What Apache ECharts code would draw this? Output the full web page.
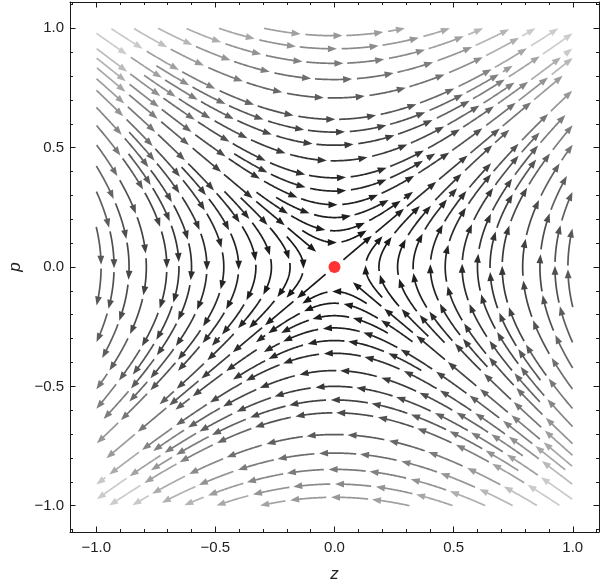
<!DOCTYPE html>
<html><head><meta charset="utf-8">
<script src="https://cdn.jsdelivr.net/npm/echarts@6/dist/echarts.min.js"></script>
<style>html,body{margin:0;padding:0;background:#fff}#c{width:600px;height:583px}</style>
</head><body><div id="c"></div>
<script>
// ---- data ----
// vector field: dz/dt = fieldZ[0]*z + fieldZ[1]*p ; dp/dt = fieldP[0]*z + fieldP[1]*p
const fieldZ = [0, 1];
const fieldP = [0.7, 0];
const streamRegionZ = [-1, 1];
const streamRegionP = [-1, 1];
const plotRangeZ = [-1.11, 1.11];
const plotRangeP = [-1.11, 1.11];
const majorTicks = [-1, -0.5, 0, 0.5, 1];
const minorTicks = [-1.1,-0.9,-0.8,-0.7,-0.6,-0.4,-0.3,-0.2,-0.1,0.1,0.2,0.3,0.4,0.6,0.7,0.8,0.9,1.1];
const fixedPoints = [[0, 0]];
const seedPoints = [[0.3, 0.45], [-0.6, 0.0], [0.6, 0.0], [0.0, -0.5], [0.12, 0.1], [-0.12, -0.1], [-0.12, 0.1], [0.12, -0.1]];
const xName = 'z';
const yName = 'p';

// ---- streamline computation (evenly spaced streamlines) ----
const DSEP = 0.052, DTEST = 0.03, H = 0.004, MIN_SPEED = 0.04, SEED_SPEED = 0.11, MIN_LEN = 0.05;
function vel(z, p) { return [fieldZ[0]*z + fieldZ[1]*p, fieldP[0]*z + fieldP[1]*p]; }
function step(z, p, dir) {
  let v = vel(z, p), n = Math.hypot(v[0], v[1]);
  if (n < 1e-9) return null;
  const zm = z + v[0]/n*dir*H/2, pm = p + v[1]/n*dir*H/2;
  v = vel(zm, pm); n = Math.hypot(v[0], v[1]);
  if (n < 1e-9) return null;
  return [z + v[0]/n*dir*H, p + v[1]/n*dir*H];
}
const cell = DSEP;
const gridMap = new Map();
function key(i, j) { return i*10007 + j; }
function addPoints(pts) {
  for (const q of pts) {
    const k = key(Math.floor((q[0]+3)/cell), Math.floor((q[1]+3)/cell));
    if (!gridMap.has(k)) gridMap.set(k, []);
    gridMap.get(k).push(q);
  }
}
function near(z, p, r) {
  const i0 = Math.floor((z+3)/cell), j0 = Math.floor((p+3)/cell), n = Math.ceil(r/cell);
  for (let i = i0-n; i <= i0+n; i++) for (let j = j0-n; j <= j0+n; j++) {
    const arr = gridMap.get(key(i, j)); if (!arr) continue;
    for (const q of arr) if ((q[0]-z)*(q[0]-z) + (q[1]-p)*(q[1]-p) < r*r) return true;
  }
  return false;
}
function inRegion(z, p) {
  return z >= streamRegionZ[0] && z <= streamRegionZ[1] && p >= streamRegionP[0] && p <= streamRegionP[1];
}
function speed(z, p) { const v = vel(z, p); return Math.hypot(v[0], v[1]); }
function trace(z0, p0, dir) {
  const pts = []; let z = z0, p = p0;
  for (let k = 0; k < 3000; k++) {
    const nx = step(z, p, dir); if (!nx) break;
    if (!inRegion(nx[0], nx[1])) break;
    if (speed(nx[0], nx[1]) < MIN_SPEED) break;
    if (near(nx[0], nx[1], DTEST)) break;
    pts.push(nx); z = nx[0]; p = nx[1];
  }
  return pts;
}
function makeLine(z, p) {
  if (!inRegion(z, p)) return null;
  if (speed(z, p) < SEED_SPEED) return null;
  if (near(z, p, DSEP*0.97)) return null;
  const back = trace(z, p, -1).reverse();
  const fwd = trace(z, p, 1);
  const pts = back.concat([[z, p]], fwd);
  if ((pts.length-1)*H < MIN_LEN) return null;
  addPoints(pts);
  return pts;
}
const lines = [];
let qi = 0;
function bfs() {
  while (qi < lines.length) {
    const L = lines[qi++];
    for (let k = 0; k < L.length; k += 4) {
      const a = L[Math.max(0, k-1)], b = L[Math.min(L.length-1, k+1)];
      let tz = b[0]-a[0], tp = b[1]-a[1]; const n = Math.hypot(tz, tp); if (n === 0) continue;
      tz /= n; tp /= n;
      for (const s of [1, -1]) {
        const N = makeLine(L[k][0] - s*DSEP*tp, L[k][1] + s*DSEP*tz);
        if (N) lines.push(N);
      }
    }
  }
}
for (const s of seedPoints) { const L = makeLine(s[0], s[1]); if (L) lines.push(L); }
bfs();
for (let z = streamRegionZ[0]+0.01; z < streamRegionZ[1]; z += DSEP/2)
  for (let p = streamRegionP[0]+0.01; p < streamRegionP[1]; p += DSEP/2) {
    const L = makeLine(z, p); if (L) { lines.push(L); bfs(); }
  }

// ---- split streamlines into arrowed pieces ----
const SEG = 0.16, GAP = 0.014, MIN_PIECE = 0.04;
const corners = [[1,1],[1,-1],[-1,1],[-1,-1]];
const SMAX = Math.max(...corners.map(c => speed(c[0], c[1])));
function grayFor(s) {
  const t = Math.min(1, s / SMAX);
  const g = Math.round(24 + 208 * Math.pow(t, 2.1));
  return 'rgb(' + g + ',' + g + ',' + g + ')';
}
const pieces = [];
for (const L of lines) {
  const cum = [0];
  for (let i = 1; i < L.length; i++) cum.push(cum[i-1] + Math.hypot(L[i][0]-L[i-1][0], L[i][1]-L[i-1][1]));
  const total = cum[cum.length-1];
  let s = 0;
  while (s < total) {
    const e = Math.min(s + SEG, total);
    if (e - s >= MIN_PIECE) {
      const pts = [];
      for (let i = 0; i < L.length; i++) if (cum[i] >= s && cum[i] <= e) pts.push(L[i]);
      if (pts.length >= 3) {
        const m = pts[Math.floor(pts.length/2)];
        pieces.push({ pts: pts, color: grayFor(speed(m[0], m[1])), mid: m });
      }
    }
    s = e + GAP;
  }
}

// ---- chart ----
const chart = echarts.init(document.getElementById('c'), null, { renderer: 'canvas' });
const FONT = '"Liberation Sans", Arial, sans-serif';
const lineCol = '#1a1a1a';
function fmt(v) { return (v < 0 ? '\u2212' : '') + Math.abs(v).toFixed(1); }
function axisSet(pos, ticks, len, isMain, range) {
  return {
    type: 'value', position: pos, min: range[0], max: range[1],
    axisLine: { show: isMain, onZero: false, lineStyle: { color: lineCol, width: 1 } },
    axisTick: { show: true, inside: true, length: len, customValues: ticks, lineStyle: { color: lineCol, width: 1 } },
    axisLabel: { show: false },
    splitLine: { show: false }, minorTick: { show: false }, minorSplitLine: { show: false }
  };
}
const xAxes = [
  axisSet('bottom', majorTicks, 5.5, true, plotRangeZ),
  axisSet('bottom', minorTicks, 3, false, plotRangeZ),
  axisSet('top', majorTicks, 5.5, true, plotRangeZ),
  axisSet('top', minorTicks, 3, false, plotRangeZ)
];
xAxes[0].axisLabel = { show: true, customValues: majorTicks, formatter: fmt, margin: 8, fontSize: 15, color: '#222', fontFamily: FONT };
xAxes[0].name = xName; xAxes[0].nameLocation = 'middle'; xAxes[0].nameGap = 34;
xAxes[0].nameTextStyle = { fontSize: 17, fontStyle: 'italic', color: '#222', fontFamily: FONT };
const yAxes = [
  axisSet('left', majorTicks, 5.5, true, plotRangeP),
  axisSet('left', minorTicks, 3, false, plotRangeP),
  axisSet('right', majorTicks, 5.5, true, plotRangeP),
  axisSet('right', minorTicks, 3, false, plotRangeP)
];
yAxes[0].axisLabel = { show: true, customValues: majorTicks, formatter: fmt, margin: 6, fontSize: 15, color: '#222', fontFamily: FONT };
yAxes[0].name = yName; yAxes[0].nameLocation = 'middle'; yAxes[0].nameGap = 46; yAxes[0].nameRotate = 90;
yAxes[0].nameTextStyle = { fontSize: 17, fontStyle: 'italic', color: '#222', fontFamily: FONT };

const ARROW_L = 9, ARROW_W = 3.4;
chart.setOption({
  animation: false,
  backgroundColor: '#fff',
  grid: { left: 70, right: 1, top: 2, bottom: 51, containLabel: false, outerBoundsMode: 'none' },
  xAxis: xAxes,
  yAxis: yAxes,
  series: [
    {
      type: 'custom', xAxisIndex: 0, yAxisIndex: 0, silent: true,
      data: pieces.map((pc, i) => [pc.mid[0], pc.mid[1], i]),
      encode: { x: 0, y: 1 },
      renderItem: function (params, api) {
        const pc = pieces[api.value(2)];
        const px = pc.pts.map(q => api.coord(q));
        const tip = px[px.length-1];
        let j = px.length - 2;
        while (j > 0 && Math.hypot(tip[0]-px[j][0], tip[1]-px[j][1]) < 4) j--;
        let dx = tip[0]-px[j][0], dy = tip[1]-px[j][1];
        const n = Math.hypot(dx, dy) || 1; dx /= n; dy /= n;
        const base = [tip[0]-dx*ARROW_L, tip[1]-dy*ARROW_L];
        const linePts = [];
        for (const q of px) {
          if ((q[0]-base[0])*dx + (q[1]-base[1])*dy < 0) linePts.push(q);
        }
        linePts.push([base[0]+dx*1.5, base[1]+dy*1.5]);
        return {
          type: 'group',
          children: [
            { type: 'polyline', shape: { points: linePts }, style: { stroke: pc.color, lineWidth: 1.7, fill: null, lineCap: 'butt', lineJoin: 'round' } },
            { type: 'polygon', shape: { points: [tip, [base[0]-dy*ARROW_W, base[1]+dx*ARROW_W], [base[0]+dy*ARROW_W, base[1]-dx*ARROW_W]] }, style: { fill: pc.color, stroke: null } }
          ]
        };
      }
    },
    {
      type: 'scatter', xAxisIndex: 0, yAxisIndex: 0, silent: true,
      data: fixedPoints, symbol: 'circle', symbolSize: 12,
      itemStyle: { color: '#ff0000' }, z: 10
    }
  ]
});
</script>
</body></html>
